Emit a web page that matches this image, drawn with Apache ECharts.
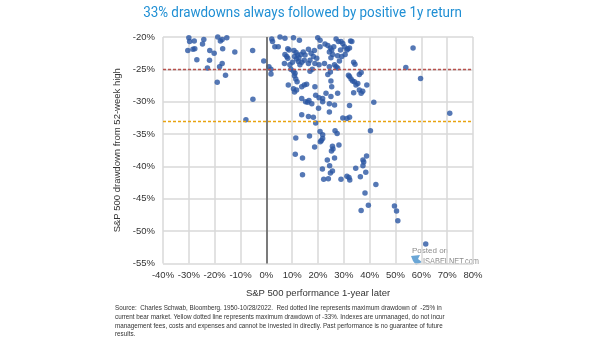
<!DOCTYPE html>
<html>
<head>
<meta charset="utf-8">
<script src="https://cdn.jsdelivr.net/npm/echarts/dist/echarts.min.js"></script>
<style>
  html, body { margin: 0; padding: 0; background: #ffffff; }
  #chart { width: 605px; height: 341px; }
</style>
</head>
<body>
<div id="chart"></div>
<script>
// S&P 500 performance one year later (%) for each drawdown episode
const perf1yLater = [
  -30.0, -29.7, -27.9, -24.2, -24.7, -18.8, -17.8, -17.1, -15.3, -30.4,
  -28.4, -27.7, -21.9, -20.2, -16.9, -12.2, -5.3, -26.9, -22.0, -17.1,
  -18.1, -22.8, -15.8, -19.0, -5.2, -7.9, -1.0,
  2.1, 2.4, 3.3, 4.6, 5.3, 7.2, 10.5, 12.8, 8.3, 8.8,
  7.2, 7.9, 8.3, 7.0, 9.1, 10.7, 11.5, 12.1, 10.9, 11.7,
  12.6, 13.4, 14.3, 15.0, 14.7, 13.7, 16.3, 17.3, 18.2, 16.9,
  16.3, 18.6, 19.9, 20.8, 20.8, 19.5, 18.8, 20.4, 1.0, 1.8,
  1.8, 9.5, 10.5, 11.1, 10.9, 11.4, 11.9, 8.5, 10.5, 10.9,
  11.7, 13.7, 14.7, 15.6, 16.9, 17.8, 18.8, 19.1, 20.4, 13.7,
  15.2, 16.0, 16.5, 17.6, 12.4, 13.0, 10.1,
  22.7, 23.8, 24.8, 25.3, 26.1, 24.4, 25.7, 25.0, 27.0, 27.9,
  28.9, 29.6, 30.2, 28.7, 27.6, 29.2, 30.5, 31.2, 31.5, 32.2,
  32.6, 33.1, 28.3, 26.4, 27.0, 24.4, 22.5, 33.8, 34.3, 24.8,
  23.8, 27.6, 31.8, 32.2, 32.8, 33.4, 34.1, 34.7, 36.0, 36.7,
  35.4, 36.0, 36.7, 37.3, 38.9, 33.8, 21.8, 23.1, 25.0, 27.6,
  25.0, 25.3, 21.8, 24.4, 26.4, 32.2, 41.6, 24.4,
  20.2, 13.7, 16.3, 18.2, 19.1, 20.8, 11.4, 16.7,
  29.6, 31.2, 32.2, 40.3, 21.8, 21.8, 26.6, 27.4,
  56.8, 54.0, 59.7, 71.0,
  14.0, 14.0, 18.7, 20.9, 21.3, 25.6, 25.8, 28.1, 25.2, 23.6,
  26.4, 24.5, 21.7, 24.8, 25.6, 22.2, 24.0, 28.9, 31.2, 32.0,
  32.3, 34.6, 36.4, 38.5, 37.4, 37.7, 37.4, 38.8, 42.4, 38.2,
  39.5, 36.7, 49.6, 50.4, 50.9, 61.7, 11.2
];

// Drawdown from the 52-week high at the time (%)
const drawdownFromHigh = [
  -20.1, -20.7, -20.6, -20.4, -21.1, -20.0, -20.6, -20.4, -20.1, -22.1,
  -21.9, -21.8, -22.1, -22.5, -21.8, -22.3, -22.1, -23.5, -23.6, -24.1,
  -24.6, -24.8, -25.9, -27.0, -29.6, -32.8, -23.7,
  -20.3, -20.7, -21.5, -21.5, -20.0, -20.2, -20.1, -20.5, -21.8, -22.0,
  -22.7, -23.0, -23.3, -24.1, -24.3, -22.1, -22.4, -22.8, -23.0, -23.4,
  -23.2, -22.7, -22.3, -22.8, -23.6, -23.9, -21.9, -22.5, -23.0, -23.6,
  -24.1, -22.1, -20.1, -20.5, -21.5, -23.3, -24.1, -24.3, -24.6, -25.0,
  -25.7, -25.0, -25.3, -25.6, -26.0, -26.5, -26.9, -27.4, -28.0, -28.5,
  -28.2, -27.7, -27.4, -27.3, -25.3, -25.0, -27.7, -29.0, -29.4, -29.5,
  -30.0, -30.1, -29.8, -30.3, -23.8, -24.3, -23.9,
  -21.1, -21.3, -21.7, -22.0, -21.5, -22.3, -22.7, -23.2, -20.3, -20.7,
  -20.7, -21.0, -21.5, -22.0, -22.9, -23.0, -22.7, -22.0, -21.8, -21.7,
  -20.6, -20.7, -23.7, -24.3, -24.6, -24.6, -24.1, -23.9, -24.2, -25.4,
  -25.8, -24.8, -25.9, -26.1, -26.5, -26.8, -26.9, -27.4, -25.8, -25.5,
  -27.2, -28.2, -28.7, -28.4, -27.4, -28.6, -29.5, -28.7, -29.2, -28.7,
  -26.8, -27.7, -30.0, -30.3, -30.5, -30.6, -30.1, -31.6,
  -31.0, -32.0, -32.3, -32.4, -33.3, -34.6, -35.6, -35.3,
  -32.5, -32.6, -32.4, -34.5, -35.1, -35.7, -34.5, -34.9,
  -21.7, -24.7, -26.4, -31.8,
  -38.7, -41.3, -37.0, -36.2, -36.0, -36.9, -37.3, -36.7, -37.6, -39.0,
  -38.7, -39.9, -40.4, -41.0, -40.7, -42.0, -41.9, -42.0, -41.5, -41.7,
  -42.1, -40.3, -41.6, -40.9, -39.0, -39.3, -39.9, -38.4, -42.8, -44.1,
  -46.0, -46.8, -46.1, -46.9, -48.4, -52.0, -38.1
];

// Reference levels
const currentBearMaxDrawdown = -25;
const deeperDrawdownLevel = -33;

// Axis ranges and tick steps
const xRange = { min: -40, max: 80, step: 10 };
const yRange = { min: -55, max: -20, step: 5 };

const titleText = '33% drawdowns always followed by positive 1y return';
const xTitle = 'S&P 500 performance 1-year later';
const yTitle = 'S&P 500 drawdown from 52-week high';
const footnoteLines = [
  'Source:  Charles Schwab, Bloomberg. 1950-10/28/2022.  Red dotted line represents maximum drawdown of  -25% in',
  'current bear market. Yellow dotted line represents maximum drawdown of -33%. Indexes are unmanaged, do not incur',
  'management fees, costs and expenses and cannot be invested in directly. Past performance is no guarantee of future',
  'results.'
];

const points = perf1yLater.map((x, i) => [x, drawdownFromHigh[i]]);

const chart = echarts.init(document.getElementById('chart'), null, { renderer: 'canvas' });

const baseFont = '"Liberation Sans", Arial, Helvetica, sans-serif';
const gridColor = '#d9d9d9';

chart.setOption({
  animation: false,
  backgroundColor: '#ffffff',
  grid: { left: 163, top: 37, width: 310, height: 226.5, containLabel: false },
  xAxis: {
    type: 'value',
    min: xRange.min, max: xRange.max, interval: xRange.step,
    name: xTitle,
    nameLocation: 'middle',
    nameGap: 25,
    nameTextStyle: { color: '#333333', fontSize: 9.5, fontFamily: baseFont },
    axisLine: { show: false },
    axisTick: { show: false },
    axisLabel: { formatter: '{value}%', color: '#333333', fontSize: 9.5, fontFamily: baseFont, margin: 7 },
    splitLine: { show: true, lineStyle: { color: gridColor, width: 1.5 } }
  },
  yAxis: {
    type: 'value',
    min: yRange.min, max: yRange.max, interval: yRange.step,
    name: yTitle,
    nameLocation: 'middle',
    nameGap: 22,
    nameTextStyle: { color: '#333333', fontSize: 9.5, fontFamily: baseFont },
    axisLine: { show: false },
    axisTick: { show: false },
    axisLabel: { formatter: '{value}%', color: '#333333', fontSize: 9.5, fontFamily: baseFont, margin: 8 },
    splitLine: { show: true, lineStyle: { color: gridColor, width: 1.5 } }
  },
  series: [
    {
      // reference lines: zero return, -25% and -33% drawdown levels
      type: 'scatter',
      data: [],
      z: 1,
      markLine: {
        silent: true,
        symbol: 'none',
        label: { show: false },
        animation: false,
        data: [
          { xAxis: 0, lineStyle: { color: '#595959', width: 1.5, type: 'solid' } },
          { yAxis: currentBearMaxDrawdown, lineStyle: { color: '#b8524e', width: 1.3, type: [3, 2] } },
          { yAxis: deeperDrawdownLevel, lineStyle: { color: '#e8a310', width: 1.3, type: [3, 2] } }
        ]
      }
    },
    {
      type: 'scatter',
      data: points,
      z: 3,
      clip: false,
      symbol: 'circle',
      symbolSize: 5.5,
      itemStyle: { color: '#2a56a3' }
    }
  ],
  graphic: [
    {
      // title, slightly condensed
      type: 'text', x: 302.5, y: 5, scaleX: 0.865,
      style: { text: titleText, fill: '#1f8fd4', align: 'center', verticalAlign: 'top',
               font: '15.5px Roboto, "Liberation Sans", sans-serif' }
    },
    {
      type: 'group', x: 115, y: 305, scaleX: 0.9,
      children: footnoteLines.map((line, i) => ({
        type: 'text', x: 0, y: i * 8.6,
        style: { text: line, fill: '#333333', verticalAlign: 'top', font: '7px "Liberation Sans", Arial, sans-serif' }
      }))
    },
    {
      type: 'group', x: 409, y: 246,
      children: [
        { type: 'text', x: 3, y: 1, style: { text: 'Posted on', fill: '#8c8c8c', verticalAlign: 'top', font: '8px "Liberation Sans", Arial, sans-serif' } },
        { type: 'polygon', shape: { points: [[2, 10], [11, 9], [9, 13], [13, 16], [7, 19], [4, 15]] }, style: { fill: '#6aa6d6' } },
        { type: 'text', x: 14, y: 10, scaleX: 0.78, style: { text: 'ISABELNET.com', fill: '#8c8c8c', verticalAlign: 'top', font: '9.5px "Liberation Sans", Arial, sans-serif' } }
      ]
    }
  ]
});
</script>
</body>
</html>
